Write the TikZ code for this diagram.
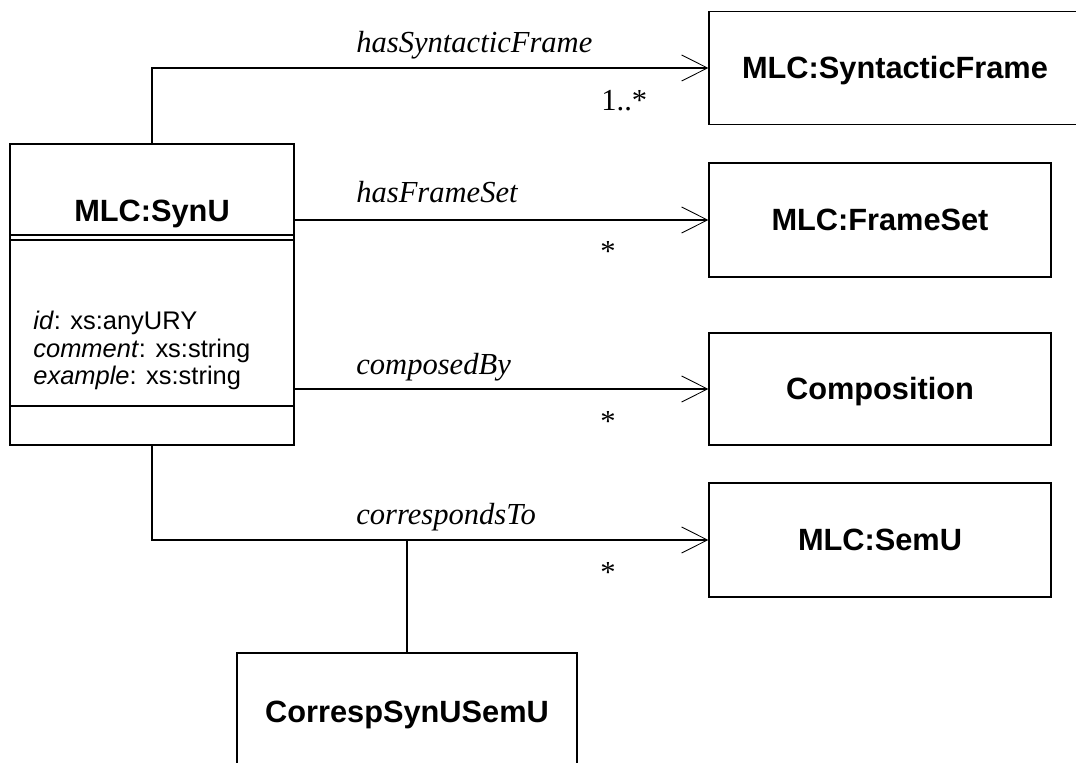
\documentclass[tikz,border=0pt]{standalone}
\usepackage{fontspec}
\setmainfont{Liberation Serif}
\setsansfont{Liberation Sans}
\usetikzlibrary{arrows.meta}
\tikzset{
	classbox/.style={draw, line width=0.7pt, inner sep=0pt, text height=12.5pt, text depth=0pt, font=\sffamily\bfseries\fontsize{17.5}{20}\selectfont},
	assoc/.style={line width=0.6pt, -{Straight Barb[length=14.7pt, width=14.8pt, line width=0.5pt]}},
	rolename/.style={anchor=base west, inner sep=0pt, font=\itshape\fontsize{17.4}{20}\selectfont},
	multi/.style={anchor=base west, inner sep=0pt, font=\fontsize{17.4}{20}\selectfont}
}
\begin{document}
\begin{tikzpicture}[x=0.02cm, y=-0.02cm]
	\useasboundingbox (0,0) rectangle (1076,763);
	\node[classbox, minimum width=5.68cm, minimum height=6.02cm] (synu) at (152,294.5) {};
	\node[anchor=base, inner sep=0pt, font=\sffamily\bfseries\fontsize{17.5}{20}\selectfont] (synuname) at (152,222) {MLC:SynU};
	\draw[line width=0.7pt] (10,235) -- (294,235);
	\draw[line width=0.7pt] (10,240) -- (294,240);
	\draw[line width=0.7pt] (10,406) -- (294,406);
	\node[anchor=north west, inner sep=0pt, align=left, font=\sffamily\fontsize{14.5}{15.6}\selectfont] (synuattr) at (33,311) {\textit{id}: xs:anyURY\\\textit{comment}: xs:string\\\textit{example}: xs:string};
	\node[classbox, minimum width=7.44cm, minimum height=2.26cm] (sframe) at (895,68) {MLC:SyntacticFrame};
	\node[classbox, minimum width=6.84cm, minimum height=2.28cm] (fset) at (880,220) {MLC:FrameSet};
	\node[classbox, minimum width=6.84cm, minimum height=2.24cm] (comp) at (880,389) {Composition};
	\node[classbox, minimum width=6.84cm, minimum height=2.28cm] (semu) at (880,540) {MLC:SemU};
	\node[classbox, minimum width=6.8cm, minimum height=2.36cm] (csu) at (407,712) {CorrespSynUSemU};
	\draw[assoc] (synu.north) |- (sframe.west);
	\draw[assoc] (synu.east |- fset.west) -- (fset.west);
	\draw[assoc] (synu.east |- comp.west) -- (comp.west);
	\draw[assoc] (synu.south) |- (semu.west);
	\draw[line width=0.6pt] (csu.north) -- (csu.north |- semu.west);
	\node[rolename] (lsframe) at (356,53) {hasSyntacticFrame};
	\node[rolename] (lfset) at (356,203) {hasFrameSet};
	\node[rolename] (lcomp) at (356,375) {composedBy};
	\node[rolename] (lsemu) at (356,525) {correspondsTo};
	\node[multi] (msframe) at (601,111) {1..*};
	\node[multi] (mfset) at (600,262) {*};
	\node[multi] (mcomp) at (600,432) {*};
	\node[multi] (msemu) at (600,583) {*};
\end{tikzpicture}
\end{document}
